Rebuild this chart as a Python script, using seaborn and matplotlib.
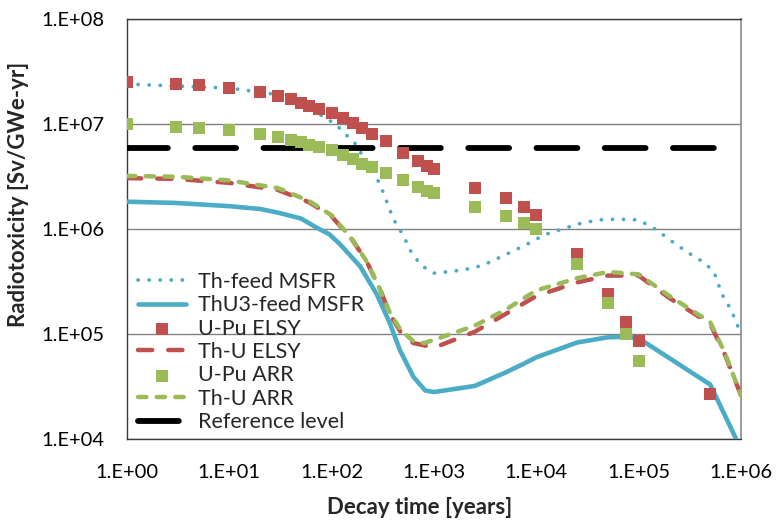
import numpy as np
import pandas as pd
import seaborn as sns
import matplotlib.pyplot as plt
from matplotlib.ticker import FixedLocator, FixedFormatter, NullLocator

# 數據
t_thfeed = [1, 10, 25, 50, 70, 100, 120, 150, 170, 200, 250, 300, 400, 500, 600, 750,
            1000, 1500, 2000, 3000, 5000, 8000, 12000, 18000, 26000, 40000, 60000,
            100000, 150000, 200000, 300000, 450000, 550000, 650000, 800000, 1000000]
y_thfeed = [2.4e7, 2.2e7, 1.95e7, 1.55e7, 1.3e7, 1.05e7, 9.1e6, 7.3e6, 6.5e6, 5.0e6, 3.7e6, 2.6e6,
            1.25e6, 8.7e5, 6.0e5, 4.5e5, 3.8e5, 3.95e5, 4.1e5, 4.5e5, 5.7e5, 7.1e5, 8.8e5,
            1.0e6, 1.12e6, 1.22e6, 1.24e6, 1.22e6, 9.8e5, 7.9e5, 6.0e5, 4.7e5, 3.8e5,
            2.4e5, 1.7e5, 1.0e5]

t_thu3 = [1, 3, 10, 20, 30, 50, 70, 95, 120, 190, 275, 370, 465, 630, 820, 1000, 2500,
          5000, 7500, 10000, 25000, 50000, 75000, 100000, 500000, 1000000]
y_thu3 = [1.82e6, 1.77e6, 1.65e6, 1.55e6, 1.43e6, 1.26e6, 1.04e6, 8.9e5, 7.2e5, 4.4e5,
          2.4e5, 1.27e5, 7.0e4, 3.9e4, 2.9e4, 2.8e4, 3.2e4, 4.3e4, 5.2e4, 6.0e4, 8.3e4,
          9.3e4, 9.4e4, 9.1e4, 3.3e4, 8.0e3]

t_sq = [1, 3, 5, 10, 20, 30, 40, 50, 60, 75, 100, 130, 160, 200, 250, 340, 500, 700,
        850, 1000, 2500, 5000, 7500, 10000, 25000, 50000, 75000, 100000, 500000]
y_upu_elsy = [2.53e7, 2.4e7, 2.35e7, 2.22e7, 2.0e7, 1.86e7, 1.72e7, 1.6e7, 1.48e7, 1.38e7,
              1.26e7, 1.13e7, 1.02e7, 9.1e6, 8.0e6, 6.9e6, 5.3e6, 4.4e6, 3.95e6, 3.7e6,
              2.47e6, 1.96e6, 1.63e6, 1.36e6, 5.8e5, 2.4e5, 1.31e5, 8.6e4, 2.7e4]
y_upu_arr = [1.0e7, 9.4e6, 9.1e6, 8.8e6, 8.1e6, 7.6e6, 7.1e6, 6.8e6, 6.3e6, 6.0e6, 5.6e6,
             5.1e6, 4.6e6, 4.2e6, 3.9e6, 3.4e6, 2.9e6, 2.5e6, 2.3e6, 2.2e6, 1.63e6, 1.34e6,
             1.15e6, 9.9e5, 4.6e5, 1.99e5, 1.0e5, 5.5e4]

t_thu = [1, 3, 10, 30, 60, 100, 160, 220, 300, 370, 470, 630, 800, 1000, 2500, 5000,
         10000, 25000, 50000, 100000, 200000, 500000, 700000, 1000000]
y_thu_elsy = [3.05e6, 3.0e6, 2.75e6, 2.35e6, 1.8e6, 1.32e6, 7.8e5, 4.9e5, 2.6e5, 1.55e5,
              1.05e5, 8.2e4, 7.8e4, 7.4e4, 1.05e5, 1.55e5, 2.3e5, 3.1e5, 3.6e5, 3.6e5,
              2.2e5, 1.25e5, 6.3e4, 2.6e4]
y_thu_arr = [3.2e6, 3.15e6, 2.9e6, 2.45e6, 1.85e6, 1.35e6, 7.9e5, 4.9e5, 2.6e5, 1.6e5,
             1.1e5, 8.5e4, 8.2e4, 8.8e4, 1.2e5, 1.7e5, 2.6e5, 3.4e5, 3.9e5, 3.7e5, 2.3e5,
             1.3e5, 6.5e4, 2.6e4]

t_ref = [1, 1000000]
y_ref = [5.9e6, 5.9e6]

x_ticks = [1, 10, 100, 1000, 10000, 100000, 1000000]
x_tick_labels = ['1.E+00', '1.E+01', '1.E+02', '1.E+03', '1.E+04', '1.E+05', '1.E+06']
y_ticks = [1e4, 1e5, 1e6, 1e7, 1e8]
y_tick_labels = ['1.E+04', '1.E+05', '1.E+06', '1.E+07', '1.E+08']

legend_order = ['Th-feed MSFR', 'ThU3-feed MSFR', 'U-Pu ELSY', 'Th-U ELSY',
                'U-Pu ARR', 'Th-U ARR', 'Reference level']

blue = '#4BACC6'
red = '#C0504D'
green = '#9BBB59'

sns.set_theme(style='white')
plt.rcParams['font.family'] = ['Lato', 'DejaVu Sans']

fig = plt.figure(figsize=(7.76, 5.2), dpi=100)
ax = fig.add_axes([127 / 776, 1 - 439 / 520, 614 / 776, 420 / 520])

# 線條
sns.lineplot(x=t_thfeed, y=y_thfeed, ax=ax, color=blue, lw=2.7, linestyle=(0, (0.05, 2.9)),
             dash_capstyle='round', label='Th-feed MSFR', estimator=None, sort=False, zorder=3)
sns.lineplot(x=t_thu3, y=y_thu3, ax=ax, color=blue, lw=3.3, label='ThU3-feed MSFR',
             estimator=None, sort=False, zorder=3)
sns.scatterplot(x=t_sq, y=y_upu_elsy, ax=ax, color=red, marker='s', s=72, linewidth=0,
                label='U-Pu ELSY', zorder=5)
sns.lineplot(x=t_thu, y=y_thu_elsy, ax=ax, color=red, lw=3.2, linestyle=(0, (3.2, 3.6)),
             dash_capstyle='round', label='Th-U ELSY', estimator=None, sort=False, zorder=3)
sns.scatterplot(x=t_sq[:-1], y=y_upu_arr, ax=ax, color=green, marker='s', s=72, linewidth=0,
                label='U-Pu ARR', zorder=5)
sns.lineplot(x=t_thu, y=y_thu_arr, ax=ax, color=green, lw=3.2, linestyle=(0, (1.9, 2.3)),
             dash_capstyle='round', label='Th-U ARR', estimator=None, sort=False, zorder=4)
sns.lineplot(x=t_ref, y=y_ref, ax=ax, color='black', lw=4.2, linestyle=(0, (7.0, 4.7)),
             dash_capstyle='round', label='Reference level', estimator=None, sort=False, zorder=4)

ax.set_xscale('log')
ax.set_yscale('log')
ax.set_xlim(1, 1e6)
ax.set_ylim(1e4, 1e8)

ax.xaxis.set_major_locator(FixedLocator(x_ticks))
ax.xaxis.set_major_formatter(FixedFormatter(x_tick_labels))
ax.yaxis.set_major_locator(FixedLocator(y_ticks))
ax.yaxis.set_major_formatter(FixedFormatter(y_tick_labels))
ax.xaxis.set_minor_locator(NullLocator())
ax.yaxis.set_minor_locator(NullLocator())

ax.grid(axis='y', color='#808080', lw=1)
ax.grid(axis='x', visible=False)
for side in ['left', 'bottom', 'top']:
    ax.spines[side].set_color('#3a3a3a')
    ax.spines[side].set_linewidth(1)
ax.spines['right'].set_color('#8a8a8a')
ax.spines['right'].set_linewidth(1.2)

ax.tick_params(axis='both', direction='out', length=6, width=1, color='#3a3a3a',
               labelsize=14.5, labelcolor='black')
ax.tick_params(axis='y', pad=10)
ax.tick_params(axis='x', pad=12)

ax.set_xlabel('Decay time [years]', fontsize=16, fontweight='bold')
ax.set_ylabel('Radiotoxicity [Sv/GWe-yr]', fontsize=16, fontweight='bold')
ax.xaxis.set_label_coords(0.477, -0.137)
ax.yaxis.set_label_coords(-0.160, 0.583)

handles, labels = ax.get_legend_handles_labels()
lookup = dict(zip(labels, handles))
ax.legend([lookup[k] for k in legend_order], legend_order, loc='lower left',
          bbox_to_anchor=(0.018, 0.016), frameon=False, fontsize=15.5, borderpad=0,
          borderaxespad=0, handlelength=2.25, handletextpad=0.55, labelspacing=0.16,
          numpoints=1, scatterpoints=1)

plt.savefig('out.png', dpi=100)
